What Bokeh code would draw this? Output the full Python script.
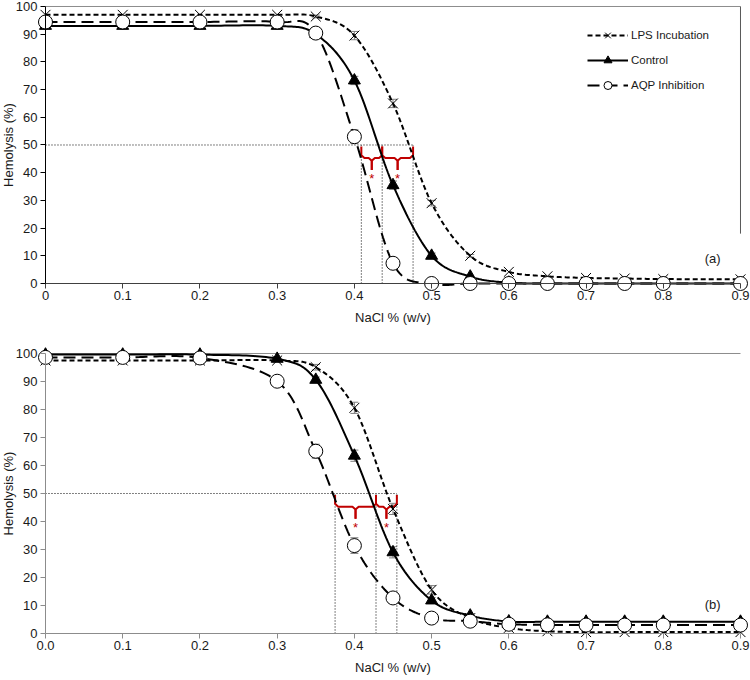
from bokeh.plotting import figure
from bokeh.layouts import column
from bokeh.models import (Range1d, LinearAxis, FixedTicker, NumeralTickFormatter,
                          Legend, LegendItem, Whisker, TeeHead, ColumnDataSource, Label)
from bokeh.embed import file_html
from bokeh.resources import INLINE
from bokeh.core.properties import value
import numpy as np

FONT = "Liberation Sans"
RED = "#C00000"

# NaCl concentration (% w/v)
nacl = [0, 0.1, 0.2, 0.3, 0.35, 0.4, 0.45, 0.5, 0.55, 0.6, 0.65, 0.7, 0.75, 0.8, 0.9]

# Panel (a) hemolysis (%)
lps_a = [97, 97, 97, 97, 96.4, 89.5, 65, 29, 10, 4.2, 2.6, 2, 1.8, 1.6, 1.5]
ctrl_a = [93, 93, 93, 93, 90, 73.3, 35.5, 10, 2.5, 0.3, 0, 0, 0, 0, 0]
aqp_a = [94.4, 94.4, 94.4, 94.4, 90.4, 53, 7.3, 0, 0, 0, 0, 0, 0, 0, 0]
lps_a_err = [0, 0, 0, 0, 0.5, 1.5, 1.5, 1, 0.5, 0, 0, 0, 0, 0, 0]
ctrl_a_err = [0, 0, 0, 0, 0.5, 1.5, 1.5, 1, 0, 0, 0, 0, 0, 0, 0]
aqp_a_err = [0, 0, 0, 0, 0.5, 2.5, 1, 0, 0, 0, 0, 0, 0, 0, 0]
# 50 % hemolysis points: AQP inhibition, control, LPS incubation
ec50_a = [0.409, 0.436, 0.476]

# Panel (b) hemolysis (%)
lps_b = [97.5, 97.5, 97.5, 97.5, 95.1, 80.6, 44.5, 15.6, 5.5, 2, 0.8, 0.5, 0.5, 0.5, 0.5]
ctrl_b = [99.6, 99.6, 99.6, 98.1, 90.6, 63.5, 29, 11.8, 6.4, 4.3, 4.2, 4.2, 4.2, 4.2, 4.2]
aqp_b = [98.6, 98.6, 98.4, 90.1, 65.1, 31.4, 12.7, 5.5, 4.4, 3.3, 3.1, 3, 3, 3, 3]
lps_b_err = [0, 0, 0, 0, 1, 2, 2, 1.5, 0.5, 0, 0, 0, 0, 0, 0]
ctrl_b_err = [0, 0, 0, 0.5, 1, 2, 2, 1, 0.5, 0, 0, 0, 0, 0, 0]
aqp_b_err = [0, 0, 0, 0.5, 2.5, 2.8, 1, 0.5, 0, 0, 0, 0, 0, 0, 0]
ec50_b = [0.375, 0.428, 0.455]

x_ticks = [0, 0.1, 0.2, 0.3, 0.4, 0.5, 0.6, 0.7, 0.8, 0.9]
y_ticks = [0, 10, 20, 30, 40, 50, 60, 70, 80, 90, 100]
series_names = ["LPS Incubation", "Control", "AQP Inhibition"]

# horizontal extent of each panel's frame (the axes sit at x = 0 and y = 0 inside it)
X_RANGE = (-0.05827, 0.91295)


def smooth(xs, ys, steps=24):
    """Smoothed polyline through the points (Bezier, 1/6 tangents)."""
    P = np.column_stack([xs, ys]).astype(float)
    n = len(P)
    out = [P[0]]
    t = np.linspace(0, 1, steps)[1:, None]
    for i in range(n - 1):
        p0 = P[i - 1] if i > 0 else P[i]
        p1, p2 = P[i], P[i + 1]
        p3 = P[i + 2] if i + 2 < n else P[i + 1]
        c1 = p1 + (p2 - p0) / 6
        c2 = p2 - (p3 - p1) / 6
        seg = (1 - t) ** 3 * p1 + 3 * (1 - t) ** 2 * t * c1 + 3 * (1 - t) * t ** 2 * c2 + t ** 3 * p2
        out.extend(seg)
    out = np.array(out)
    return out[:, 0], out[:, 1]


def brace(xa, xb, top, bar, tip):
    """Two half-paths of a downward-pointing curly brace between xa and xb."""
    xm = (xa + xb) / 2
    dx = 0.004
    left_x = [xa, xa, xa + dx, xm - dx, xm, xm]
    left_y = [top, bar + 1.0, bar, bar, bar - 1.0, tip]
    right_x = [xb, xb, xb - dx, xm + dx, xm, xm]
    right_y = [top, bar + 1.0, bar, bar, bar - 1.0, tip]
    return [left_x, right_x], [left_y, right_y]


def make_panel(lps, ctrl, aqp, errs, ec50, letter, letter_y, height, y_range,
               zero_label, axis_color, yaxis_color, show_legend, right_border):
    p = figure(width=750, height=height,
               x_range=Range1d(*X_RANGE), y_range=Range1d(*y_range),
               x_axis_type=None, y_axis_type=None,
               toolbar_location=None, output_backend="svg",
               min_border_left=0, min_border_right=0,
               min_border_top=0, min_border_bottom=0)
    p.outline_line_color = None
    p.background_fill_color = "white"

    # plot-area border at 100 % (and on the right of the upper panel)
    p.segment(x0=[0], y0=[100], x1=[0.9], y1=[100], line_color="#8c8c8c", line_width=1)
    if right_border:
        p.segment(x0=[0.9], y0=[18], x1=[0.9], y1=[100], line_color="#595959", line_width=1)

    # 50 % guides
    p.segment(x0=[0], y0=[50], x1=[max(ec50)], y1=[50],
              line_color="black", line_width=1, line_dash="1 2")
    p.segment(x0=ec50, y0=[0] * 3, x1=ec50, y1=[50] * 3,
              line_color="black", line_width=1, line_dash="1 2")

    # significance braces
    for xa, xb in [(ec50[0], ec50[1]), (ec50[1], ec50[2])]:
        bx, by = brace(xa, xb, 49.5, 45.3, 41)
        p.multi_line(bx, by, line_color=RED, line_width=2)
        p.text(x=[(xa + xb) / 2], y=[37.8], text=["*"], text_color=RED,
               text_font=value(FONT), text_font_size="13px",
               text_align="center", text_baseline="middle")

    xs, ys = smooth(nacl, lps)
    l_lps = p.line(xs, ys, line_color="black", line_width=2, line_dash="5 3")
    xs, ys = smooth(nacl, ctrl)
    l_ctrl = p.line(xs, ys, line_color="black", line_width=2)
    xs, ys = smooth(nacl, aqp)
    l_aqp = p.line(xs, ys, line_color="black", line_width=2, line_dash="12 6")

    # error bars
    for vals, err in zip([lps, ctrl, aqp], errs):
        bx = [x for x, e in zip(nacl, err) if e > 0]
        up = [v + e for v, e in zip(vals, err) if e > 0]
        lo = [v - e for v, e in zip(vals, err) if e > 0]
        src = ColumnDataSource(dict(base=bx, upper=up, lower=lo))
        w = Whisker(base="base", upper="upper", lower="lower", source=src,
                    line_color="#7f7f7f", line_width=1,
                    upper_head=TeeHead(size=8, line_color="#7f7f7f", line_width=1),
                    lower_head=TeeHead(size=8, line_color="#7f7f7f", line_width=1))
        p.add_layout(w)

    m_lps = p.scatter(nacl, lps, marker="x", size=14, line_color="black", line_width=1)
    m_ctrl = p.scatter(nacl, ctrl, marker="triangle", size=12, fill_color="black",
                       line_color="black")
    m_aqp = p.scatter(nacl, aqp, marker="circle", size=14, fill_color="white",
                      line_color="black", line_width=1)

    yaxis = LinearAxis(fixed_location=0, bounds=(0, 100), ticker=FixedTicker(ticks=y_ticks),
                       axis_label="Hemolysis (%)")
    xaxis = LinearAxis(fixed_location=0, bounds=(0, 0.9), ticker=FixedTicker(ticks=x_ticks),
                       axis_label="NaCl % (w/v)",
                       formatter=NumeralTickFormatter(format="0.0"))
    if zero_label is not None:
        xaxis.major_label_overrides = {0: zero_label}
    for ax, col in [(yaxis, yaxis_color), (xaxis, axis_color)]:
        ax.axis_line_color = col
        ax.major_tick_line_color = col
        ax.major_tick_out = 5
        ax.major_tick_in = 0
        ax.minor_tick_line_color = None
        ax.major_label_text_font = FONT
        ax.major_label_text_font_size = "13px"
        ax.major_label_text_color = "#1a1a1a"
        ax.axis_label_text_font = FONT
        ax.axis_label_text_font_size = "13px"
        ax.axis_label_text_font_style = "normal"
        ax.axis_label_text_color = "#1a1a1a"
        ax.major_label_standoff = 3
    yaxis.axis_label_standoff = -3
    xaxis.axis_label_standoff = 6
    p.add_layout(yaxis, "left")
    p.add_layout(xaxis, "below")

    p.add_layout(Label(x=0.864, y=letter_y, text=letter,
                       text_font=FONT, text_font_size="13px", text_color="#1a1a1a",
                       text_align="center", text_baseline="middle"))

    if show_legend:
        legend = Legend(items=[
            LegendItem(label=series_names[0], renderers=[l_lps, m_lps]),
            LegendItem(label=series_names[1], renderers=[l_ctrl, m_ctrl]),
            LegendItem(label=series_names[2], renderers=[l_aqp, m_aqp]),
        ], location=(587, 235), orientation="vertical",
            glyph_width=41, glyph_height=20, label_height=20, spacing=5,
            label_standoff=3, padding=0, margin=0,
            label_text_font=FONT, label_text_font_size="11.5px", label_text_color="#1a1a1a",
            border_line_color=None, background_fill_alpha=0)
        p.add_layout(legend)
    return p


pa = make_panel(lps_a, ctrl_a, aqp_a, [lps_a_err, ctrl_a_err, aqp_a_err], ec50_a, "(a)", 9.0,
                height=330, y_range=(-16.97, 102.166),
                zero_label="0", axis_color="#404040", yaxis_color="black",
                show_legend=True, right_border=True)
pb = make_panel(lps_b, ctrl_b, aqp_b, [lps_b_err, ctrl_b_err, aqp_b_err], ec50_b, "(b)", 10.4,
                height=350, y_range=(-16.786, 108.214),
                zero_label=None, axis_color="#8c8c8c", yaxis_color="#8c8c8c",
                show_legend=False, right_border=False)

layout = column(pa, pb, spacing=0)
open("out.html", "w").write(file_html(layout, INLINE))
